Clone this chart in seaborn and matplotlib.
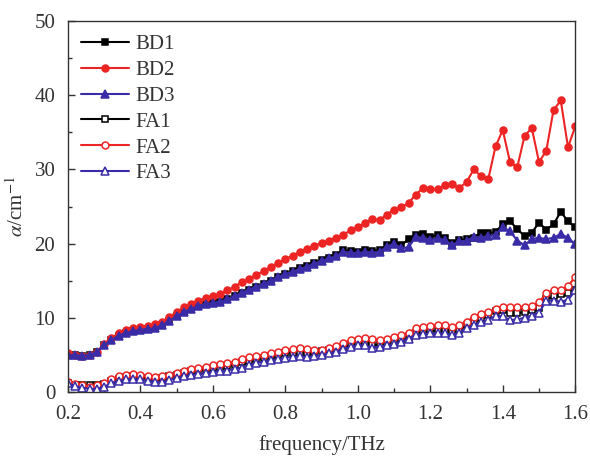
"""Absorption coefficient spectra of BD and FA samples."""

import matplotlib

matplotlib.use("Agg")
import matplotlib.pyplot as plt
import numpy as np
import pandas as pd
import seaborn as sns
from matplotlib.ticker import FormatStrFormatter, MultipleLocator

# frequency grid (THz)
frequency = np.round(np.linspace(0.20, 1.60, 71), 2)

bd1 = [
    5.0, 5.0, 4.9, 5.0, 5.4, 6.3, 7.0, 7.6, 8.0, 8.2,
    8.4, 8.5, 8.6, 9.0, 9.6, 10.2, 10.8, 11.2, 11.6, 11.9,
    12.0, 12.2, 12.5, 12.9, 13.4, 13.8, 14.2, 14.6, 15.0, 15.5,
    15.9, 16.3, 16.7, 17.0, 17.4, 17.8, 18.1, 18.5, 19.1, 19.0,
    18.9, 19.1, 19.0, 19.1, 19.8, 20.2, 19.8, 20.6, 21.2, 21.3,
    20.9, 21.2, 20.8, 20.1, 20.5, 20.6, 20.8, 21.5, 21.4, 21.6,
    22.6, 23.0, 22.0, 21.0, 21.5, 22.8, 21.9, 22.6, 24.3, 23.0,
    22.2,
]
bd2 = [
    5.2, 5.0, 4.85, 5.0, 5.4, 6.5, 7.3, 7.9, 8.3, 8.6,
    8.8, 8.9, 9.2, 9.5, 10.1, 10.8, 11.4, 11.9, 12.3, 12.7,
    12.9, 13.2, 13.7, 14.2, 14.8, 15.2, 15.8, 16.3, 16.8, 17.4,
    17.9, 18.4, 18.9, 19.3, 19.7, 20.1, 20.4, 20.8, 21.2, 21.8,
    22.2, 22.8, 23.3, 23.2, 23.9, 24.6, 24.9, 25.5, 26.6, 27.5,
    27.3, 27.3, 27.9, 28.0, 27.5, 28.3, 30.0, 29.1, 28.7, 33.1,
    35.3, 31.0, 30.3, 34.5, 35.6, 31.0, 32.5, 38.0, 39.3, 33.0,
    35.8,
]
bd3 = [
    5.0, 5.0, 4.9, 5.0, 5.4, 6.3, 7.0, 7.6, 8.0, 8.2,
    8.4, 8.5, 8.6, 9.0, 9.6, 10.2, 10.8, 11.2, 11.6, 11.9,
    12.0, 12.2, 12.5, 12.9, 13.4, 13.8, 14.2, 14.6, 15.0, 15.5,
    15.9, 16.2, 16.6, 16.9, 17.3, 17.7, 18.0, 18.3, 18.9, 18.8,
    18.7, 18.9, 18.8, 18.9, 19.6, 20.0, 19.4, 19.5, 20.9, 20.8,
    20.5, 20.7, 20.5, 19.8, 20.3, 20.4, 20.9, 20.8, 21.0, 21.2,
    22.2, 21.7, 20.4, 19.8, 20.6, 20.8, 20.6, 20.8, 21.3, 20.8,
    19.9,
]
fa1 = [
    1.2, 1.0, 0.9, 0.9, 0.95, 1.1, 1.5, 1.8, 2.0, 2.1,
    2.0, 1.9, 1.8, 1.9, 2.1, 2.3, 2.6, 2.8, 2.9, 3.0,
    3.2, 3.3, 3.5, 3.7, 4.0, 4.2, 4.4, 4.6, 4.8, 5.0,
    5.2, 5.3, 5.3, 5.3, 5.4, 5.5, 5.6, 5.7, 6.0, 6.4,
    6.5, 6.55, 6.4, 6.3, 6.6, 6.8, 7.0, 7.2, 7.8, 8.1,
    8.2, 8.2, 8.2, 8.1, 8.4, 9.0, 9.6, 10.0, 10.4, 10.9,
    11.0, 10.7, 10.6, 10.8, 11.0, 11.3, 12.5, 12.9, 13.2, 13.4,
    13.7,
]
fa2 = [
    1.4, 1.1, 0.9, 0.7, 0.9, 1.2, 1.7, 2.1, 2.3, 2.4,
    2.3, 2.1, 2.0, 2.1, 2.3, 2.6, 2.9, 3.1, 3.3, 3.4,
    3.6, 3.8, 3.9, 4.1, 4.4, 4.7, 4.9, 5.0, 5.2, 5.4,
    5.6, 5.8, 5.9, 5.8, 5.7, 5.7, 5.9, 6.2, 6.6, 7.0,
    7.2, 7.35, 7.2, 7.0, 7.2, 7.45, 7.7, 8.0, 8.6, 8.8,
    8.9, 9.0, 9.0, 8.8, 9.0, 9.5, 10.1, 10.5, 10.8, 11.2,
    11.4, 11.4, 11.5, 11.4, 11.6, 12.1, 13.3, 13.8, 13.7, 14.3,
    15.5,
]
fa3 = [
    1.2, 0.8, 0.6, 0.4, 0.45, 0.7, 1.2, 1.5, 1.7, 1.75,
    1.7, 1.5, 1.4, 1.3, 1.6, 1.9, 2.1, 2.3, 2.4, 2.55,
    2.7, 2.8, 2.9, 3.1, 3.3, 3.6, 3.9, 4.1, 4.3, 4.4,
    4.6, 4.75, 4.8, 4.75, 4.8, 5.0, 5.2, 5.4, 5.8, 6.1,
    6.3, 6.3, 6.0, 6.1, 6.3, 6.5, 6.8, 7.2, 7.7, 7.8,
    7.9, 7.9, 7.9, 7.7, 8.0, 8.6, 9.0, 9.4, 9.7, 10.3,
    10.2, 9.7, 9.8, 10.0, 10.3, 10.7, 12.3, 12.3, 12.2, 12.4,
    13.7,
]

RED = "#ec2424"
BLUE = "#3a2ca6"
TEXT = "#333333"
SERIES = [
    ("BD1", bd1, "black", "s", True),
    ("BD2", bd2, RED, "o", True),
    ("BD3", bd3, BLUE, "^", True),
    ("FA1", fa1, "black", "s", False),
    ("FA2", fa2, RED, "o", False),
    ("FA3", fa3, BLUE, "^", False),
]
MARKER_SIZES = {"s": 4.6, "o": 5.0, "^": 5.6}

sns.set_theme(style="ticks")
plt.rcParams["font.family"] = ["Liberation Serif", "DejaVu Serif"]
plt.rcParams["mathtext.fontset"] = "stix"

fig = plt.figure(figsize=(5.9, 4.58), dpi=100)
ax = fig.add_axes([0.115, 0.144, 0.86, 0.81])

for name, values, color, marker, filled in SERIES:
    frame = pd.DataFrame({"frequency": frequency, "alpha": values})
    sns.lineplot(
        data=frame,
        x="frequency",
        y="alpha",
        ax=ax,
        color=color,
        linewidth=1.5,
        marker=marker,
        markersize=MARKER_SIZES[marker],
        markerfacecolor=color if filled else "white",
        markeredgecolor=color,
        markeredgewidth=1.1,
        label=name,
    )

ax.set_xlim(0.2, 1.6)
ax.set_ylim(0, 50)
ax.xaxis.set_major_locator(MultipleLocator(0.2))
ax.xaxis.set_minor_locator(MultipleLocator(0.1))
ax.yaxis.set_major_locator(MultipleLocator(10))
ax.yaxis.set_minor_locator(MultipleLocator(5))
ax.xaxis.set_major_formatter(FormatStrFormatter("%.1f"))
ax.tick_params(which="both", direction="in", top=False, right=False,
               labelsize=15, colors=TEXT, labelcolor=TEXT)
ax.tick_params(which="major", length=5, width=1)
ax.tick_params(which="minor", length=3, width=1)
ax.tick_params(axis="x", which="major", pad=9)
ax.tick_params(axis="y", which="major", pad=9)
for spine in ax.spines.values():
    spine.set_visible(True)
    spine.set_color(TEXT)
    spine.set_linewidth(1.0)

ax.set_xlabel("frequency/THz", fontsize=15, color=TEXT, labelpad=8)
ax.set_ylabel(r"$\alpha$/cm$^{-1}$", fontsize=15, color=TEXT)
ax.yaxis.set_label_coords(-0.078, 0.5)

legend = ax.legend(
    loc="upper left",
    frameon=False,
    fontsize=15,
    handlelength=2.3,
    handletextpad=0.3,
    labelspacing=0.3,
    borderaxespad=0.25,
)
for text in legend.get_texts():
    text.set_color(TEXT)

fig.savefig("out.png", dpi=100)
